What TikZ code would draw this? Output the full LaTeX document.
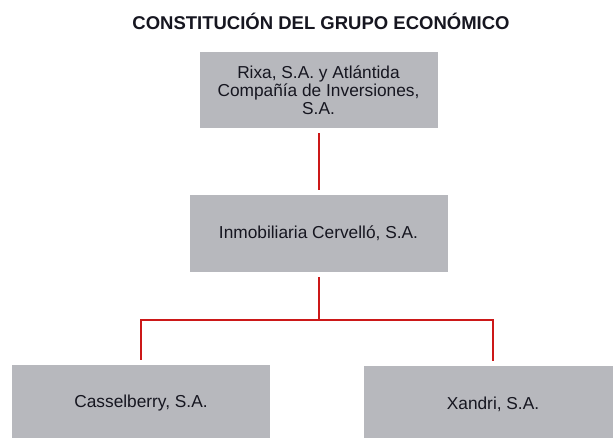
\documentclass[tikz,border=0pt]{standalone}
\usepackage{fontspec}
\setmainfont{Liberation Sans}
\usepackage{tikz}
\usetikzlibrary{calc}
\definecolor{boxgray}{RGB}{183,184,189}
\definecolor{linered}{RGB}{204,24,24}
\definecolor{txtdark}{RGB}{22,22,32}

\begin{document}
\begin{tikzpicture}[x=1pt,y=-1pt,
		empresa/.style={fill=boxgray,text=txtdark,inner sep=0pt,minimum width=258pt,minimum height=77pt,align=center,font=\fontsize{17.3}{18}\selectfont},
		enlace/.style={draw=linered,line width=2pt,shorten <=5pt,shorten >=5pt}]
		\useasboundingbox (0,0) rectangle (613,437);
		\clip (0,0) rectangle (613,437);
		\node[text=txtdark,font=\fontsize{18.5}{20}\selectfont\bfseries] (titulo) at (321,21) {CONSTITUCIÓN DEL GRUPO ECONÓMICO};
		\node[empresa,minimum width=238pt,minimum height=76pt] (rixa) at (318.5,90) {Rixa, S.A. y Atlántida\\Compañía de Inversiones,\\S.A.};
		\node[empresa] (cervello) at (318.5,233.5) {Inmobiliaria Cervelló, S.A.};
		\node[empresa] (cassel) at (141,403.5) {Casselberry, S.A.};
		\node[empresa] (xandri) at (493,404.5) {Xandri, S.A.};
		\coordinate (nudo) at (318.5,320);
		\draw[enlace] (rixa.south) -- (cervello.north);
		\draw[enlace,shorten >=0pt] (cervello.south) -- (nudo);
		\draw[enlace,shorten <=0pt,line join=miter] (nudo) -| (cassel.north);
		\draw[enlace,shorten <=0pt,line join=miter] (nudo) -| (xandri.north);
	\end{tikzpicture}
\end{document}
